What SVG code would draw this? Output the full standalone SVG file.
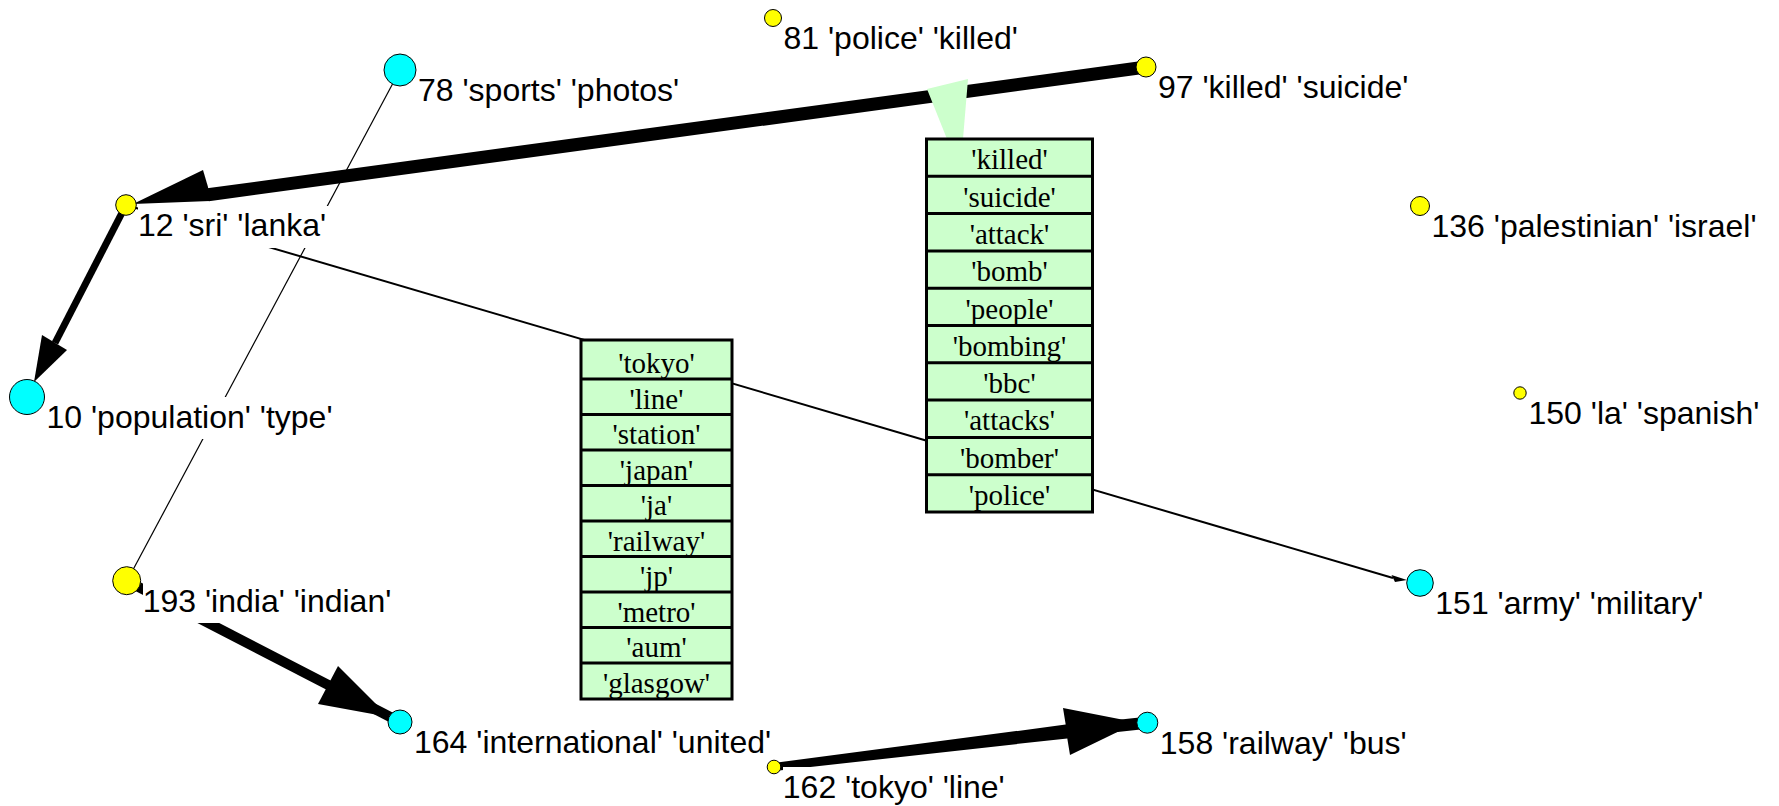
<svg xmlns="http://www.w3.org/2000/svg" width="1779" height="806" viewBox="0 0 1779 806">
  <style>
    .bg { fill: #ffffff; }
    .edge { stroke: #000000; fill: none; stroke-linecap: butt; }
    .head { fill: #000000; stroke: none; }
    .yellow { fill: #ffff00; stroke: #000000; stroke-width: 1; }
    .cyan { fill: #00ffff; stroke: #000000; stroke-width: 1; }
    .lblbox { fill: #ffffff; stroke: none; }
    .lbl { font-family: "Liberation Sans", Arial, sans-serif; font-size: 32px; fill: #000000; }
    .cell { fill: #ccffcc; stroke: #000000; stroke-width: 3; }
    .sep { stroke: #000000; stroke-width: 3; }
    .term { font-family: "Liberation Serif", "Times New Roman", serif; font-size: 29px; fill: #000000; text-anchor: middle; }
    .callout { fill: #ccffcc; stroke: none; }
  </style>

  <rect class="bg" x="0" y="0" width="1779" height="806"/>

  <!-- connectors -->
  <g id="connectors">
    <!-- 97 -> 12 -->
    <line class="edge" x1="1146" y1="67" x2="208" y2="194.8" stroke-width="13"/>
    <polygon class="head" points="133,204 203,170 208,187 210,201"/>
    <!-- 12 -> 10 -->
    <line class="edge" x1="126" y1="205" x2="55" y2="343" stroke-width="7"/>
    <polygon class="head" points="34,382 42,335 67,350"/>
    <!-- 78 -> 193 -->
    <line class="edge" x1="400" y1="70" x2="127" y2="581" stroke-width="1.2"/>
    <!-- 12 -> 151 -->
    <line class="edge" x1="126" y1="205" x2="1393" y2="578" stroke-width="2"/>
    <polygon class="head" points="1407,580 1391.5,575 1395,582"/>
    <!-- 193 -> 164 -->
    <line class="edge" x1="127" y1="581" x2="400" y2="722" stroke-width="10"/>
    <polygon class="head" points="389,717 338,666 318,704"/>
    <!-- 162 -> 158 -->
    <polygon class="head" points="773.5,763 1065.7,724.6 1063,708 1137,722.5 1070,755 1067.3,738.4 774.5,771"/>
    <line class="edge" x1="1066" y1="731.5" x2="1147" y2="722.7" stroke-width="12"/>
  </g>

  <!-- term table for edge 97 -> 12 -->
  <g id="terms-killed">
    <polygon class="callout" points="927,89 968,79 963,139 947,139"/>
    <rect class="cell" x="926.5" y="139" width="166" height="373"/>
    <line class="sep" x1="926.5" y1="176.3" x2="1092.5" y2="176.3"/>
    <line class="sep" x1="926.5" y1="213.6" x2="1092.5" y2="213.6"/>
    <line class="sep" x1="926.5" y1="250.9" x2="1092.5" y2="250.9"/>
    <line class="sep" x1="926.5" y1="288.2" x2="1092.5" y2="288.2"/>
    <line class="sep" x1="926.5" y1="325.5" x2="1092.5" y2="325.5"/>
    <line class="sep" x1="926.5" y1="362.8" x2="1092.5" y2="362.8"/>
    <line class="sep" x1="926.5" y1="400.1" x2="1092.5" y2="400.1"/>
    <line class="sep" x1="926.5" y1="437.4" x2="1092.5" y2="437.4"/>
    <line class="sep" x1="926.5" y1="474.7" x2="1092.5" y2="474.7"/>
    <text class="term" x="1009.5" y="169.3">'killed'</text>
    <text class="term" x="1009.5" y="206.6">'suicide'</text>
    <text class="term" x="1009.5" y="243.9">'attack'</text>
    <text class="term" x="1009.5" y="281.2">'bomb'</text>
    <text class="term" x="1009.5" y="318.5">'people'</text>
    <text class="term" x="1009.5" y="355.8">'bombing'</text>
    <text class="term" x="1009.5" y="393.1">'bbc'</text>
    <text class="term" x="1009.5" y="430.4">'attacks'</text>
    <text class="term" x="1009.5" y="467.7">'bomber'</text>
    <text class="term" x="1009.5" y="505">'police'</text>
  </g>

  <!-- term table for edge 162 -> 158 -->
  <g id="terms-tokyo">
    <rect class="cell" x="581" y="340" width="151" height="359"/>
    <line class="sep" x1="581" y1="379" x2="732" y2="379"/>
    <line class="sep" x1="581" y1="414.5" x2="732" y2="414.5"/>
    <line class="sep" x1="581" y1="450" x2="732" y2="450"/>
    <line class="sep" x1="581" y1="485.5" x2="732" y2="485.5"/>
    <line class="sep" x1="581" y1="521" x2="732" y2="521"/>
    <line class="sep" x1="581" y1="556.5" x2="732" y2="556.5"/>
    <line class="sep" x1="581" y1="592" x2="732" y2="592"/>
    <line class="sep" x1="581" y1="627.5" x2="732" y2="627.5"/>
    <line class="sep" x1="581" y1="663" x2="732" y2="663"/>
    <text class="term" x="656.5" y="373">'tokyo'</text>
    <text class="term" x="656.5" y="408.5">'line'</text>
    <text class="term" x="656.5" y="444">'station'</text>
    <text class="term" x="656.5" y="479.5">'japan'</text>
    <text class="term" x="656.5" y="515">'ja'</text>
    <text class="term" x="656.5" y="550.5">'railway'</text>
    <text class="term" x="656.5" y="586">'jp'</text>
    <text class="term" x="656.5" y="621.5">'metro'</text>
    <text class="term" x="656.5" y="657">'aum'</text>
    <text class="term" x="656.5" y="693">'glasgow'</text>
  </g>

  <!-- nodes -->
  <g id="n81">
    <rect class="lblbox" x="783" y="18" width="238" height="42"/>
    <circle class="yellow" cx="773" cy="18" r="8.5"/>
    <text class="lbl" x="783.5" y="49">81 'police' 'killed'</text>
  </g>
  <g id="n78">
    <rect class="lblbox" x="418" y="70" width="265" height="42"/>
    <circle class="cyan" cx="400" cy="70" r="16"/>
    <text class="lbl" x="418" y="101">78 'sports' 'photos'</text>
  </g>
  <g id="n97">
    <rect class="lblbox" x="1158" y="67" width="254" height="42"/>
    <circle class="yellow" cx="1146" cy="67" r="10"/>
    <text class="lbl" x="1158" y="98">97 'killed' 'suicide'</text>
  </g>
  <g id="n12">
    <rect class="lblbox" x="138" y="206" width="193" height="42"/>
    <circle class="yellow" cx="126" cy="205" r="10.3"/>
    <text class="lbl" x="138" y="236">12 'sri' 'lanka'</text>
  </g>
  <g id="n136">
    <rect class="lblbox" x="1431" y="206" width="329" height="42"/>
    <circle class="yellow" cx="1420" cy="206" r="9.5"/>
    <text class="lbl" x="1431.5" y="237">136 'palestinian' 'israel'</text>
  </g>
  <g id="n150">
    <rect class="lblbox" x="1528" y="393" width="235" height="42"/>
    <circle class="yellow" cx="1520" cy="393" r="6.2"/>
    <text class="lbl" x="1528.5" y="424">150 'la' 'spanish'</text>
  </g>
  <g id="n10">
    <rect class="lblbox" x="46" y="397" width="290" height="42"/>
    <circle class="cyan" cx="27" cy="397" r="17.5"/>
    <text class="lbl" x="46.5" y="428">10 'population' 'type'</text>
  </g>
  <g id="n193">
    <rect class="lblbox" x="143" y="581" width="253" height="42"/>
    <circle class="yellow" cx="126.7" cy="580.7" r="14"/>
    <text class="lbl" x="142.7" y="612">193 'india' 'indian'</text>
  </g>
  <g id="n151">
    <rect class="lblbox" x="1435" y="583" width="272" height="42"/>
    <circle class="cyan" cx="1420" cy="583" r="13.3"/>
    <text class="lbl" x="1435.3" y="614">151 'army' 'military'</text>
  </g>
  <g id="n164">
    <rect class="lblbox" x="414" y="722" width="361" height="42"/>
    <circle class="cyan" cx="400" cy="722" r="12"/>
    <text class="lbl" x="414" y="753">164 'international' 'united'</text>
  </g>
  <g id="n158">
    <rect class="lblbox" x="1160" y="723" width="251" height="42"/>
    <circle class="cyan" cx="1147.3" cy="722.7" r="10.5"/>
    <text class="lbl" x="1159.8" y="754">158 'railway' 'bus'</text>
  </g>
  <g id="n162">
    <rect class="lblbox" x="783" y="767" width="226" height="39"/>
    <circle class="yellow" cx="774" cy="767" r="6.8"/>
    <text class="lbl" x="782.8" y="798">162 'tokyo' 'line'</text>
  </g>
</svg>
